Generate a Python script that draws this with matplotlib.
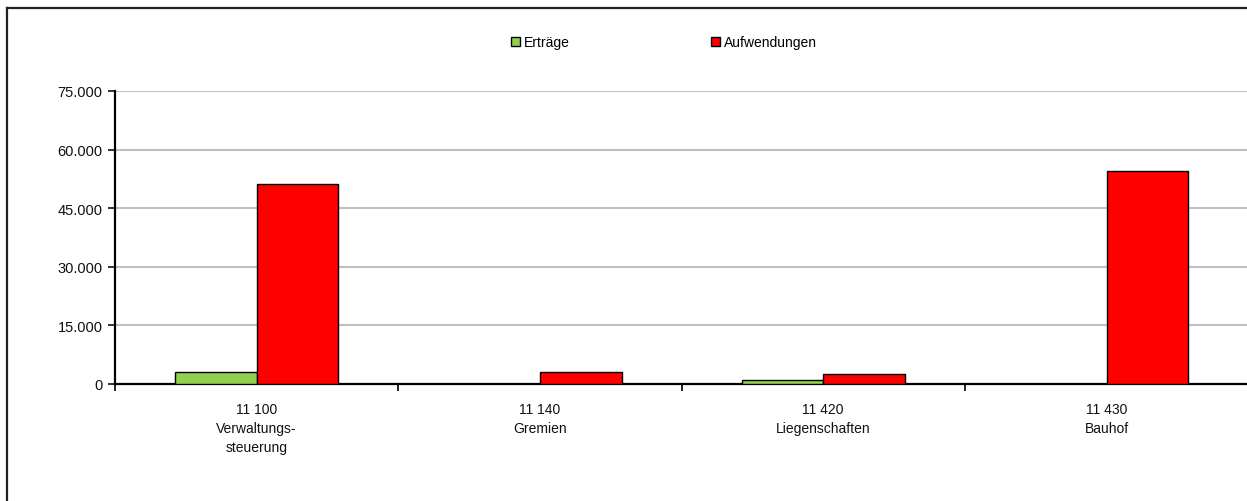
import numpy as np
import matplotlib.pyplot as plt
from matplotlib.patches import Patch
from matplotlib.lines import Line2D
from matplotlib.ticker import FuncFormatter

plt.rcParams['font.family'] = ['Liberation Sans', 'DejaVu Sans']

# ---- data ----
codes = ["11 100", "11 140", "11 420", "11 430"]
names = ["Verwaltungs-\nsteuerung", "Gremien", "Liegenschaften", "Bauhof"]
ertraege = [3000, 0, 1000, 0]
aufwendungen = [51200, 3000, 2600, 54500]
y_ticks = [0, 15000, 30000, 45000, 60000, 75000]

GREEN = "#92D050"
RED = "#FF0000"

W, H = 1247, 502
fig = plt.figure(figsize=(W / 100, H / 100), dpi=100)

# axes placed in pixel units of the reference
x0, x1 = 115, 115 + 4 * 283.3
y0, y1 = 385, 92
ax = fig.add_axes([x0 / W, 1 - y0 / H, (x1 - x0) / W, (y0 - y1) / H])

# outer chart border: only top and left edges are inside the crop
bx, by = 7 / W, 1 - 9 / H
for xs, ys in (([bx, 1.0], [by, by]), ([bx, bx], [by, 0.0])):
    fig.add_artist(Line2D(xs, ys, transform=fig.transFigure,
                          color="#222222", lw=1.6))

x = np.arange(len(codes)) + 0.5
bw = 0.288
ax.bar(x - bw / 2, ertraege, bw, color=GREEN, edgecolor="black", lw=1.0, zorder=3)
ax.bar(x + bw / 2, aufwendungen, bw, color=RED, edgecolor="black", lw=1.0, zorder=3)

ax.set_xlim(0, len(codes))
ax.set_ylim(0, 75000)
ax.set_yticks(y_ticks)
ax.yaxis.set_major_formatter(FuncFormatter(lambda v, _: f"{int(v):,}".replace(",", ".")))
ax.yaxis.grid(True, color="#C0C0C0", lw=1.5, zorder=0)
ax.set_axisbelow(True)

# category boundaries get the tick marks, labels sit in the middle
ax.set_xticks(np.arange(len(codes) + 1))
ax.set_xticklabels([])
ax.set_xticks(x, [f"{c}\n{n}" for c, n in zip(codes, names)], minor=True)
ax.tick_params(axis="x", which="minor", length=0, pad=13, labelsize=10,
               colors="#111111")
ax.tick_params(axis="x", which="major", length=5, width=1.2, direction="out")
ax.tick_params(axis="y", length=5, width=1.2, direction="out", labelsize=10.5,
               pad=4, colors="#111111")
for lab in ax.get_xticklabels(minor=True):
    lab.set_linespacing(1.45)

for s in ("top", "right"):
    ax.spines[s].set_visible(False)
for s in ("left", "bottom"):
    ax.spines[s].set_linewidth(1.6)
    ax.spines[s].set_color("black")

handles = [Patch(facecolor=GREEN, edgecolor="black", lw=1.0, label="Erträge"),
           Patch(facecolor=RED, edgecolor="black", lw=1.0, label="Aufwendungen")]
fig.legend(handles=handles, loc="center", bbox_to_anchor=(664 / W, 1 - 43 / H),
           ncol=2, frameon=False, fontsize=10, handlelength=0.6,
           handleheight=0.6, handletextpad=0.3, columnspacing=10.2)

fig.savefig("out.png", dpi=100)
